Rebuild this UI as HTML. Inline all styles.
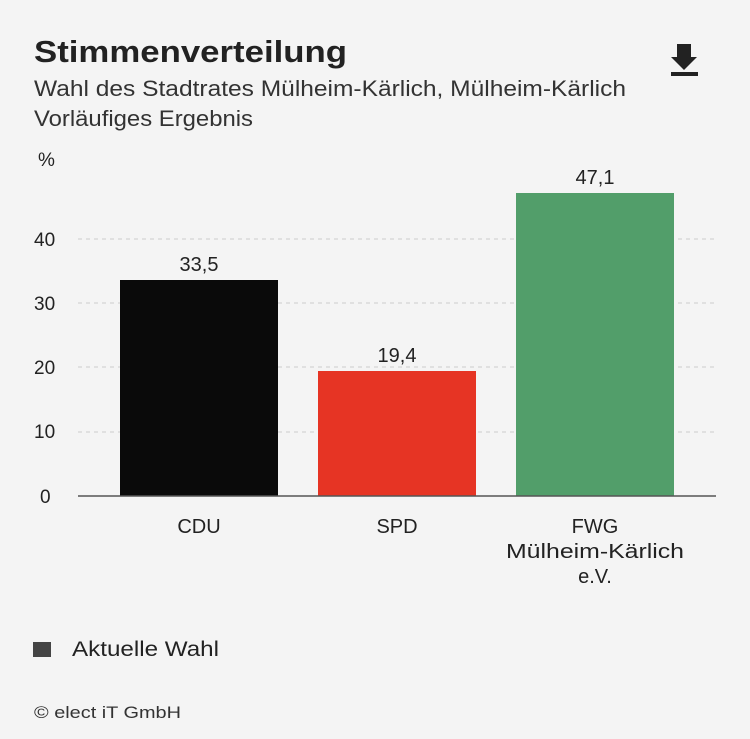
<!DOCTYPE html>
<html><head><meta charset="utf-8"><style>
body{margin:0;width:750px;height:734px;background:#f4f4f4;font-family:"Liberation Sans",sans-serif;color:#222;overflow:hidden}
</style></head><body>
<svg width="750" height="734" xmlns="http://www.w3.org/2000/svg" font-family="Liberation Sans, sans-serif">
<rect width="750" height="734" fill="#f4f4f4"/>
<text x="34" y="62" font-size="31" font-weight="bold" fill="#222" textLength="313" lengthAdjust="spacingAndGlyphs">Stimmenverteilung</text>
<text x="34" y="96" font-size="22" fill="#333" textLength="592" lengthAdjust="spacingAndGlyphs">Wahl des Stadtrates Mülheim-Kärlich, Mülheim-Kärlich</text>
<text x="34" y="126" font-size="22" fill="#333" textLength="219" lengthAdjust="spacingAndGlyphs">Vorläufiges Ergebnis</text>
<g fill="#222"><rect x="677" y="44" width="14" height="14"/><polygon points="671,57 697,57 684,70"/><rect x="671" y="72" width="27" height="4"/></g>
<text x="38" y="166" font-size="19" fill="#222">%</text>
<g stroke="#ccc" stroke-dasharray="4,4" stroke-width="1">
<line x1="78" y1="239" x2="716" y2="239"/><line x1="78" y1="303" x2="716" y2="303"/>
<line x1="78" y1="367" x2="716" y2="367"/><line x1="78" y1="432" x2="716" y2="432"/></g>
<g font-size="19" fill="#222">
<text x="34" y="246">40</text><text x="34" y="310">30</text><text x="34" y="374">20</text><text x="34" y="438">10</text><text x="40" y="503">0</text></g>
<rect x="120" y="280" width="158" height="216" fill="#0a0a0a"/>
<rect x="318" y="371" width="158" height="125" fill="#e63424"/>
<rect x="516" y="193" width="158" height="303" fill="#529e6a"/>
<line x1="78" y1="496" x2="716" y2="496" stroke="#555" stroke-width="1.5"/>
<g font-size="20" fill="#222" text-anchor="middle">
<text x="199" y="271">33,5</text><text x="397" y="362">19,4</text><text x="595" y="184">47,1</text>
<text x="199" y="533">CDU</text><text x="397" y="533">SPD</text>
<text x="595" y="533">FWG</text><text x="595" y="558" textLength="178" lengthAdjust="spacingAndGlyphs">Mülheim-Kärlich</text><text x="595" y="583">e.V.</text></g>
<rect x="33" y="642" width="18" height="15" fill="#444"/>
<text x="72" y="656" font-size="21" fill="#222" textLength="147" lengthAdjust="spacingAndGlyphs">Aktuelle Wahl</text>
<text x="34" y="718" font-size="17" fill="#333" textLength="147" lengthAdjust="spacingAndGlyphs">© elect iT GmbH</text>
</svg>
</body></html>
